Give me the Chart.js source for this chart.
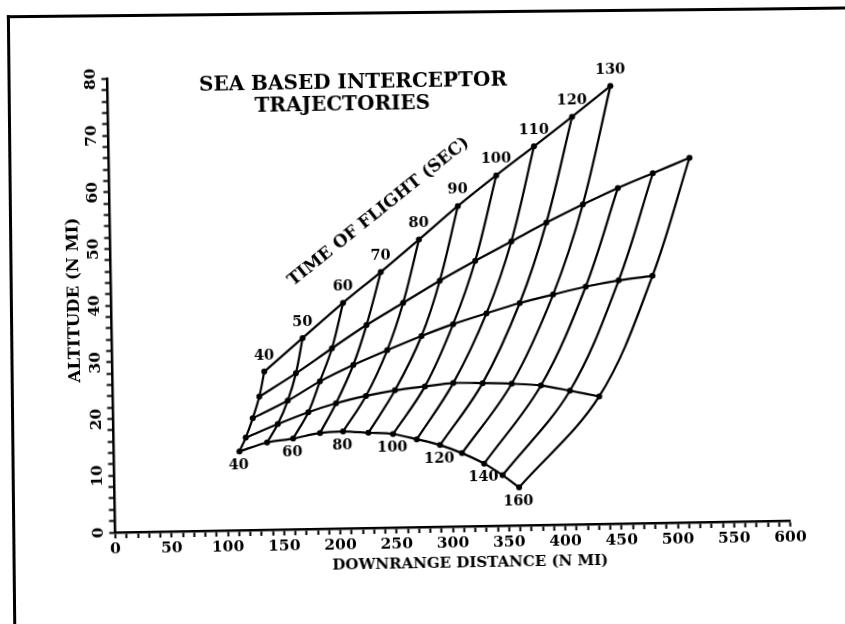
<!DOCTYPE html>
<html>
<head>
<meta charset="utf-8">
<script src="https://cdn.jsdelivr.net/npm/chart.js@4.4.1/dist/chart.umd.min.js"></script>
<style>
  html, body { margin: 0; padding: 0; background: #fff; overflow: hidden; }
  body { width: 845px; height: 624px; position: relative; }
  #hoja { position: absolute; left: 0; top: 0; width: 845px; height: 624px; transform: rotate(-1deg); transform-origin: 422.5px 312px; }
  #marco { position: absolute; left: 10px; top: 10.5px; width: 900px; height: 700px;
           border-left: 3px solid #000; border-top: 3px solid #000;
           transform: rotate(-0.6deg); transform-origin: 412.5px 301.5px; }
</style>
</head>
<body>
<div id="marco"></div>
<div id="hoja"><canvas id="grafico" width="845" height="624"></canvas></div>
<script>
// tiempo de vuelo (s) de cada punto
const times = [40, 50, 60, 70, 80, 90, 100, 110, 120, 130, 140, 150, 160];

// trayectorias, de la mas alta a la mas baja (N MI)
const traj1X = [134.9, 169.5, 206.0, 240.0, 274.4, 309.5, 344.1, 378.1, 412.4, 446.9];
const traj1Y = [27.9, 33.7, 39.8, 45.1, 50.7, 56.5, 61.8, 66.8, 71.9, 77.2];

const traj2X = [130.1, 163.0, 195.4, 226.5, 259.4, 292.3, 324.1, 356.5, 387.9, 420.6, 452.0, 483.3, 516.1];
const traj2Y = [23.5, 27.5, 31.8, 35.8, 39.6, 43.4, 46.8, 50.1, 53.3, 56.4, 59.2, 61.7, 64.3];

const traj3X = [123.9, 155.3, 184.2, 214.1, 244.5, 275.2, 303.5, 333.3, 363.0, 392.8, 421.9, 451.3, 481.4];
const traj3Y = [19.7, 22.7, 26.0, 28.8, 31.3, 33.7, 35.7, 37.5, 39.2, 40.6, 41.9, 42.9, 43.6];

const traj4X = [117.4, 146.1, 173.4, 198.2, 224.9, 250.8, 277.5, 302.7, 328.8, 354.6, 380.6, 406.3, 432.2];
const traj4Y = [16.3, 18.6, 20.6, 22.1, 23.3, 24.2, 24.8, 25.3, 25.2, 25.0, 24.6, 23.6, 22.5];

const traj5X = [111.6, 136.3, 159.5, 183.5, 204.0, 226.5, 248.4, 269.4, 290.0, 309.4, 328.9, 345.1, 359.6];
const traj5Y = [13.9, 15.4, 16.0, 16.9, 17.1, 16.8, 16.5, 15.5, 14.4, 12.9, 11.0, 8.9, 6.7];

const titulo = ["SEA BASED INTERCEPTOR", "TRAJECTORIES"];
const tituloX = "DOWNRANGE DISTANCE (N MI)";
const tituloY = "ALTITUDE (N MI)";
const rotuloTiempo = "TIME OF FLIGHT (SEC)";

const xTicks = [0, 50, 100, 150, 200, 250, 300, 350, 400, 450, 500, 550, 600];
const yTicks = [0, 10, 20, 30, 40, 50, 60, 70, 80];

const FUENTE = '"DejaVu Serif", "Liberation Serif", serif';

const trayectorias = [
    [traj1X, traj1Y],
    [traj2X, traj2Y],
    [traj3X, traj3Y],
    [traj4X, traj4Y],
    [traj5X, traj5Y]
];

function puntos(xs, ys) {
    return xs.map((v, i) => ({ x: v, y: ys[i] }));
}

const datasets = [];

// lineas de igual tiempo de vuelo (de abajo hacia arriba)
times.forEach((t, i) => {
    const data = [];
    for (let k = trayectorias.length - 1; k >= 0; k--) {
        const [xs, ys] = trayectorias[k];
        if (i < xs.length) data.push({ x: xs[i], y: ys[i] });
    }
    datasets.push({
        label: t + " s",
        data: data,
        showLine: true,
        borderColor: "#000",
        borderWidth: 2.2,
        pointRadius: 0,
        tension: 0.35
    });
});

trayectorias.forEach(([xs, ys], k) => {
    datasets.push({
        label: "T" + (k + 1),
        data: puntos(xs, ys),
        showLine: true,
        borderColor: "#000",
        borderWidth: 2.2,
        pointRadius: 3,
        pointBorderWidth: 0,
        pointBackgroundColor: "#000",
        tension: 0.3
    });
});

const textos = {
    id: "textos",
    afterDatasetsDraw(chart) {
        const { ctx, scales: { x, y } } = chart;
        ctx.save();
        ctx.fillStyle = "#000";
        ctx.textAlign = "center";
        ctx.textBaseline = "middle";

        ctx.font = "bold 20px " + FUENTE;
        ctx.fillText(titulo[0], 357, 82);
        ctx.fillText(titulo[1], 346, 104);

        ctx.font = "bold 14.5px " + FUENTE;
        traj1X.forEach((v, i) => {
            ctx.fillText(times[i], x.getPixelForValue(v), y.getPixelForValue(traj1Y[i]) - 16);
        });
        traj5X.forEach((v, i) => {
            if (times[i] % 20 === 0) {
                ctx.fillText(times[i], x.getPixelForValue(v) - 1, y.getPixelForValue(traj5Y[i]) + 14);
            }
        });

        ctx.save();
        ctx.translate(x.getPixelForValue(239), y.getPixelForValue(55.7));
        ctx.rotate(-37.8 * Math.PI / 180);
        ctx.font = "bold 17px " + FUENTE;
        ctx.fillText(rotuloTiempo, 0, 0);
        ctx.restore();

        ctx.font = "bold 15px " + FUENTE;
        ctx.fillText(tituloX, 466, 564);

        ctx.save();
        ctx.translate(75, 294);
        ctx.rotate(-Math.PI / 2);
        ctx.font = "bold 16.5px " + FUENTE;
        ctx.fillText(tituloY, 0, 0);
        ctx.restore();

        ctx.restore();
    }
};

const ctx = document.getElementById("grafico");

new Chart(ctx, {
    type: "scatter",
    data: { datasets: datasets },
    plugins: [textos],
    options: {
        responsive: false,
        animation: false,
        devicePixelRatio: 1,
        layout: { padding: { left: 0, top: 73.5, right: 58.5, bottom: 0 } },
        plugins: {
            legend: { display: false },
            tooltip: { enabled: false }
        },
        scales: {
            x: {
                type: "linear",
                min: 0,
                max: 600,
                afterFit: s => { s.height = 97; },
                border: { display: true, color: "#000", width: 2.5 },
                grid: { drawOnChartArea: false, drawTicks: true, tickLength: 6, tickWidth: 2, tickColor: "#000" },
                ticks: {
                    stepSize: 10,
                    autoSkip: false,
                    maxRotation: 0,
                    padding: 2,
                    color: "#000",
                    font: { family: FUENTE, size: 15.5, weight: "bold" },
                    callback: v => xTicks.includes(v) ? v : ""
                }
            },
            y: {
                type: "linear",
                min: 0,
                max: 80,
                afterFit: s => { s.width = 111.5; },
                border: { display: true, color: "#000", width: 2.5 },
                grid: { drawOnChartArea: false, drawTicks: true, tickLength: 6, tickWidth: 2, tickColor: "#000" },
                ticks: {
                    stepSize: 2,
                    autoSkip: false,
                    minRotation: 90,
                    maxRotation: 90,
                    crossAlign: "center",
                    padding: 0,
                    color: "#000",
                    font: { family: FUENTE, size: 15.5, weight: "bold" },
                    callback: v => yTicks.includes(v) ? v : ""
                }
            }
        }
    }
});
</script>
</body>
</html>
